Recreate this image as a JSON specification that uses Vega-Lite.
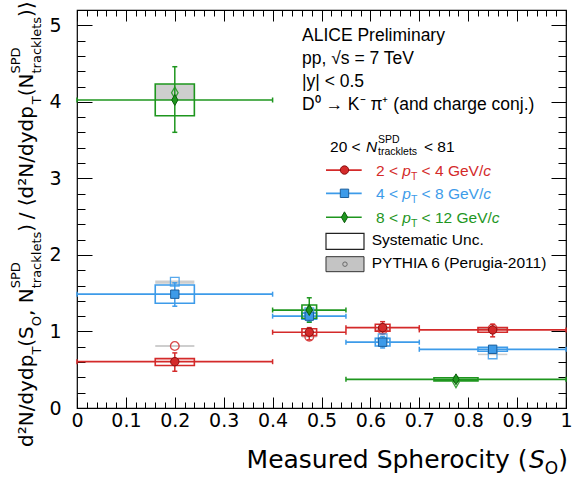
{
  "$schema": "https://vega.github.io/schema/vega-lite/v6.json",
  "width": 489,
  "height": 398,
  "autosize": "none",
  "padding": {"left": 77, "top": 10, "right": 6, "bottom": 70},
  "background": "white",
  "config": {
    "view": {"stroke": "#000", "strokeWidth": 1.2},
    "axis": {"domain": false, "grid": false, "tickColor": "#000", "tickWidth": 1, "labelColor": "#000", "labelFont": "DejaVu Sans", "labelFontSize": 19, "title": null},
    "text": {"font": "Liberation Sans"}
  },
  "datasets": {
    "d": [
      {"s": "2<pT<4", "xc": 0.2, "xlo": 0, "xhi": 0.4, "y": 0.605, "slo": 0.48, "shi": 0.72, "bxlo": 0.16, "bxhi": 0.24, "sylo": 0.555, "syhi": 0.645, "py": 0.81, "pylo": 0.797, "pyhi": 0.823},
      {"s": "2<pT<4", "xc": 0.475, "xlo": 0.4, "xhi": 0.55, "y": 0.99, "slo": 0.89, "shi": 1.05, "bxlo": 0.46, "bxhi": 0.49, "sylo": 0.945, "syhi": 1.035, "py": 0.93, "pylo": 0.92, "pyhi": 0.94},
      {"s": "2<pT<4", "xc": 0.625, "xlo": 0.55, "xhi": 0.7, "y": 1.05, "slo": 0.976, "shi": 1.128, "bxlo": 0.61, "bxhi": 0.64, "sylo": 1.005, "syhi": 1.095, "py": 1.02, "pylo": 1.01, "pyhi": 1.03},
      {"s": "2<pT<4", "xc": 0.85, "xlo": 0.7, "xhi": 1.0, "y": 1.02, "slo": 0.93, "shi": 1.094, "bxlo": 0.82, "bxhi": 0.88, "sylo": 0.99, "syhi": 1.05, "py": 1.04, "pylo": 1.03, "pyhi": 1.05},
      {"s": "4<pT<8", "xc": 0.2, "xlo": 0, "xhi": 0.4, "y": 1.487, "slo": 1.33, "shi": 1.635, "bxlo": 0.16, "bxhi": 0.24, "sylo": 1.368, "syhi": 1.607, "py": 1.65, "pylo": 1.625, "pyhi": 1.665},
      {"s": "4<pT<8", "xc": 0.475, "xlo": 0.4, "xhi": 0.55, "y": 1.2, "slo": 1.13, "shi": 1.28, "bxlo": 0.46, "bxhi": 0.49, "sylo": 1.16, "syhi": 1.24, "py": 1.25, "pylo": 1.24, "pyhi": 1.26},
      {"s": "4<pT<8", "xc": 0.625, "xlo": 0.55, "xhi": 0.7, "y": 0.86, "slo": 0.785, "shi": 0.935, "bxlo": 0.61, "bxhi": 0.64, "sylo": 0.81, "syhi": 0.91, "py": 0.91, "pylo": 0.9, "pyhi": 0.92},
      {"s": "4<pT<8", "xc": 0.85, "xlo": 0.7, "xhi": 1.0, "y": 0.767, "slo": 0.72, "shi": 0.81, "bxlo": 0.82, "bxhi": 0.88, "sylo": 0.742, "syhi": 0.792, "py": 0.7, "pylo": 0.69, "pyhi": 0.71},
      {"s": "8<pT<12", "xc": 0.2, "xlo": 0, "xhi": 0.4, "y": 4.024, "slo": 3.602, "shi": 4.459, "bxlo": 0.16, "bxhi": 0.24, "sylo": 3.819, "syhi": 4.233, "py": 4.119, "pylo": 4.024, "pyhi": 4.233},
      {"s": "8<pT<12", "xc": 0.475, "xlo": 0.4, "xhi": 0.55, "y": 1.28, "slo": 1.12, "shi": 1.44, "bxlo": 0.46, "bxhi": 0.49, "sylo": 1.172, "syhi": 1.346, "py": 1.28, "pylo": 1.27, "pyhi": 1.3},
      {"s": "8<pT<12", "xc": 0.775, "xlo": 0.55, "xhi": 1.0, "y": 0.375, "slo": 0.345, "shi": 0.405, "bxlo": 0.73, "bxhi": 0.82, "sylo": 0.355, "syhi": 0.395, "py": 0.34, "pylo": 0.355, "pyhi": 0.37}
    ],
    "leg": [
      {"s": "2<pT<4", "x1": 0.5092, "x2": 0.5822, "xm": 0.5470, "y": 3.109},
      {"s": "4<pT<8", "x1": 0.5092, "x2": 0.5822, "xm": 0.5470, "y": 2.805},
      {"s": "8<pT<12", "x1": 0.5092, "x2": 0.5822, "xm": 0.5470, "y": 2.492}
    ]
  },
  "resolve": {"axis": {"x": "independent", "y": "independent"}},
  "layer": [
    {
      "data": {"name": "d"},
      "mark": {"type": "rect", "fill": "#bdbdbd", "opacity": 0.75},
      "encoding": {
        "x": {"field": "bxlo", "type": "quantitative", "scale": {"domain": [0, 1], "nice": false, "zero": false}, "axis": null},
        "x2": {"field": "bxhi"},
        "y": {"field": "pylo", "type": "quantitative", "scale": {"domain": [0, 5.2], "nice": false, "zero": false}, "axis": null},
        "y2": {"field": "pyhi"}
      }
    },
    {
      "data": {"name": "d"},
      "mark": {"type": "rule", "strokeWidth": 1.7},
      "encoding": {
        "x": {"field": "xlo", "type": "quantitative", "scale": {"domain": [0, 1], "nice": false, "zero": false},
              "axis": {"orient": "bottom", "values": [0, 0.1, 0.2, 0.3, 0.4, 0.5, 0.6, 0.7, 0.8, 0.9, 1], "tickSize": -11, "labelPadding": 14, "labelFlush": false, "format": "~g", "title": null}},
        "x2": {"field": "xhi"},
        "y": {"field": "y", "type": "quantitative", "scale": {"domain": [0, 5.2], "nice": false, "zero": false},
              "axis": {"orient": "left", "values": [0, 1, 2, 3, 4, 5], "tickSize": -15, "labelPadding": 31, "format": "~g", "title": null}},
        "color": {"field": "s", "type": "nominal", "scale": {"domain": ["2<pT<4", "4<pT<8", "8<pT<12"], "range": ["#d42a2a", "#3d9be9", "#1e961e"]}, "legend": null}
      }
    },
    {
      "data": {"name": "d"},
      "mark": {"type": "rule", "strokeWidth": 1.5, "yOffset": -2.5, "y2Offset": 2.5},
      "encoding": {
        "x": {"field": "xlo", "type": "quantitative", "scale": {"domain": [0, 1], "nice": false, "zero": false},
              "axis": {"orient": "bottom", "values": [0.02, 0.04, 0.06, 0.08, 0.12, 0.14, 0.16, 0.18, 0.22, 0.24, 0.26, 0.28, 0.32, 0.34, 0.36, 0.38, 0.42, 0.44, 0.46, 0.48, 0.52, 0.54, 0.56, 0.58, 0.62, 0.64, 0.66, 0.68, 0.72, 0.74, 0.76, 0.78, 0.82, 0.84, 0.86, 0.88, 0.92, 0.94, 0.96, 0.98], "tickSize": -6, "labels": false, "title": null}},
        "y": {"field": "y", "type": "quantitative", "scale": {"domain": [0, 5.2], "nice": false, "zero": false},
              "axis": {"orient": "left", "values": [0.2, 0.4, 0.6, 0.8, 1.2, 1.4, 1.6, 1.8, 2.2, 2.4, 2.6, 2.8, 3.2, 3.4, 3.6, 3.8, 4.2, 4.4, 4.6, 4.8, 5.0], "tickSize": -8, "labels": false, "title": null}},
        "y2": {"field": "y"},
        "color": {"field": "s", "type": "nominal", "scale": {"domain": ["2<pT<4", "4<pT<8", "8<pT<12"], "range": ["#d42a2a", "#3d9be9", "#1e961e"]}, "legend": null}
      }
    },
    {
      "data": {"name": "d"},
      "mark": {"type": "rule", "strokeWidth": 1.5, "yOffset": -2.5, "y2Offset": 2.5},
      "encoding": {
        "x": {"field": "xhi", "type": "quantitative", "scale": {"domain": [0, 1], "nice": false, "zero": false},
              "axis": {"orient": "top", "values": [0, 0.1, 0.2, 0.3, 0.4, 0.5, 0.6, 0.7, 0.8, 0.9, 1], "tickSize": -11, "labels": false, "title": null}},
        "y": {"field": "y", "type": "quantitative", "scale": {"domain": [0, 5.2], "nice": false, "zero": false},
              "axis": {"orient": "right", "values": [0, 1, 2, 3, 4, 5], "tickSize": -15, "labels": false, "title": null}},
        "y2": {"field": "y"},
        "color": {"field": "s", "type": "nominal", "scale": {"domain": ["2<pT<4", "4<pT<8", "8<pT<12"], "range": ["#d42a2a", "#3d9be9", "#1e961e"]}, "legend": null}
      }
    },
    {
      "data": {"name": "d"},
      "mark": {"type": "rule", "strokeWidth": 1.5},
      "encoding": {
        "x": {"field": "xc", "type": "quantitative", "scale": {"domain": [0, 1], "nice": false, "zero": false},
              "axis": {"orient": "top", "values": [0.02, 0.04, 0.06, 0.08, 0.12, 0.14, 0.16, 0.18, 0.22, 0.24, 0.26, 0.28, 0.32, 0.34, 0.36, 0.38, 0.42, 0.44, 0.46, 0.48, 0.52, 0.54, 0.56, 0.58, 0.62, 0.64, 0.66, 0.68, 0.72, 0.74, 0.76, 0.78, 0.82, 0.84, 0.86, 0.88, 0.92, 0.94, 0.96, 0.98], "tickSize": -6, "labels": false, "title": null}},
        "y": {"field": "slo", "type": "quantitative", "scale": {"domain": [0, 5.2], "nice": false, "zero": false},
              "axis": {"orient": "right", "values": [0.2, 0.4, 0.6, 0.8, 1.2, 1.4, 1.6, 1.8, 2.2, 2.4, 2.6, 2.8, 3.2, 3.4, 3.6, 3.8, 4.2, 4.4, 4.6, 4.8, 5.0], "tickSize": -8, "labels": false, "title": null}},
        "y2": {"field": "shi"},
        "color": {"field": "s", "type": "nominal", "scale": {"domain": ["2<pT<4", "4<pT<8", "8<pT<12"], "range": ["#d42a2a", "#3d9be9", "#1e961e"]}, "legend": null}
      }
    },
    {
      "data": {"name": "d"},
      "mark": {"type": "rule", "strokeWidth": 1.5, "xOffset": -2.5, "x2Offset": 2.5},
      "encoding": {
        "x": {"field": "xc", "type": "quantitative", "scale": {"domain": [0, 1], "nice": false, "zero": false}, "axis": null},
        "x2": {"field": "xc"},
        "y": {"field": "shi", "type": "quantitative", "scale": {"domain": [0, 5.2], "nice": false, "zero": false}, "axis": null},
        "color": {"field": "s", "type": "nominal", "scale": {"domain": ["2<pT<4", "4<pT<8", "8<pT<12"], "range": ["#d42a2a", "#3d9be9", "#1e961e"]}, "legend": null}
      }
    },
    {
      "data": {"name": "d"},
      "mark": {"type": "rule", "strokeWidth": 1.5, "xOffset": -2.5, "x2Offset": 2.5},
      "encoding": {
        "x": {"field": "xc", "type": "quantitative", "scale": {"domain": [0, 1], "nice": false, "zero": false}, "axis": null},
        "x2": {"field": "xc"},
        "y": {"field": "slo", "type": "quantitative", "scale": {"domain": [0, 5.2], "nice": false, "zero": false}, "axis": null},
        "color": {"field": "s", "type": "nominal", "scale": {"domain": ["2<pT<4", "4<pT<8", "8<pT<12"], "range": ["#d42a2a", "#3d9be9", "#1e961e"]}, "legend": null}
      }
    },
    {
      "data": {"name": "d"},
      "mark": {"type": "rect", "filled": false, "strokeWidth": 1.6},
      "encoding": {
        "x": {"field": "bxlo", "type": "quantitative", "scale": {"domain": [0, 1], "nice": false, "zero": false}, "axis": null},
        "x2": {"field": "bxhi"},
        "y": {"field": "sylo", "type": "quantitative", "scale": {"domain": [0, 5.2], "nice": false, "zero": false}, "axis": null},
        "y2": {"field": "syhi"},
        "color": {"field": "s", "type": "nominal", "scale": {"domain": ["2<pT<4", "4<pT<8", "8<pT<12"], "range": ["#d42a2a", "#3d9be9", "#1e961e"]}, "legend": null}
      }
    },
    {
      "data": {"name": "d"},
      "mark": {"type": "point", "filled": false, "size": 75, "strokeWidth": 1.3, "opacity": 0.85},
      "encoding": {
        "x": {"field": "xc", "type": "quantitative", "scale": {"domain": [0, 1], "nice": false, "zero": false}, "axis": null},
        "y": {"field": "py", "type": "quantitative", "scale": {"domain": [0, 5.2], "nice": false, "zero": false}, "axis": null},
        "shape": {"field": "s", "type": "nominal", "scale": {"domain": ["2<pT<4", "4<pT<8", "8<pT<12"], "range": ["circle", "square", "M0,-1.3L0.75,0L0,1.3L-0.75,0Z"]}, "legend": null},
        "color": {"field": "s", "type": "nominal", "scale": {"domain": ["2<pT<4", "4<pT<8", "8<pT<12"], "range": ["#d42a2a", "#3d9be9", "#1e961e"]}, "legend": null}
      }
    },
    {
      "data": {"name": "d"},
      "mark": {"type": "point", "filled": true, "size": 70, "opacity": 1, "strokeWidth": 1},
      "encoding": {
        "x": {"field": "xc", "type": "quantitative", "scale": {"domain": [0, 1], "nice": false, "zero": false}, "axis": null},
        "y": {"field": "y", "type": "quantitative", "scale": {"domain": [0, 5.2], "nice": false, "zero": false}, "axis": null},
        "shape": {"field": "s", "type": "nominal", "scale": {"domain": ["2<pT<4", "4<pT<8", "8<pT<12"], "range": ["circle", "square", "M0,-1.3L0.75,0L0,1.3L-0.75,0Z"]}, "legend": null},
        "fill": {"field": "s", "type": "nominal", "scale": {"domain": ["2<pT<4", "4<pT<8", "8<pT<12"], "range": ["#d42a2a", "#3d9be9", "#1e961e"]}, "legend": null},
        "stroke": {"field": "s", "type": "nominal", "scale": {"domain": ["2<pT<4", "4<pT<8", "8<pT<12"], "range": ["#8b0f0f", "#1d5f9c", "#0c5e0c"]}, "legend": null}
      }
    },
    {
      "data": {"name": "leg"},
      "mark": {"type": "rule", "strokeWidth": 1.7},
      "encoding": {
        "x": {"field": "x1", "type": "quantitative", "scale": {"domain": [0, 1], "nice": false, "zero": false}, "axis": null},
        "x2": {"field": "x2"},
        "y": {"field": "y", "type": "quantitative", "scale": {"domain": [0, 5.2], "nice": false, "zero": false}, "axis": null},
        "color": {"field": "s", "type": "nominal", "scale": {"domain": ["2<pT<4", "4<pT<8", "8<pT<12"], "range": ["#d42a2a", "#3d9be9", "#1e961e"]}, "legend": null}
      }
    },
    {
      "data": {"name": "leg"},
      "mark": {"type": "point", "filled": true, "size": 70, "opacity": 1, "strokeWidth": 1},
      "encoding": {
        "x": {"field": "xm", "type": "quantitative", "scale": {"domain": [0, 1], "nice": false, "zero": false}, "axis": null},
        "y": {"field": "y", "type": "quantitative", "scale": {"domain": [0, 5.2], "nice": false, "zero": false}, "axis": null},
        "shape": {"field": "s", "type": "nominal", "scale": {"domain": ["2<pT<4", "4<pT<8", "8<pT<12"], "range": ["circle", "square", "M0,-1.3L0.75,0L0,1.3L-0.75,0Z"]}, "legend": null},
        "fill": {"field": "s", "type": "nominal", "scale": {"domain": ["2<pT<4", "4<pT<8", "8<pT<12"], "range": ["#d42a2a", "#3d9be9", "#1e961e"]}, "legend": null},
        "stroke": {"field": "s", "type": "nominal", "scale": {"domain": ["2<pT<4", "4<pT<8", "8<pT<12"], "range": ["#8b0f0f", "#1d5f9c", "#0c5e0c"]}, "legend": null}
      }
    },
    {
      "data": {"values": [{"x1": 0.5092, "x2": 0.5869, "y1": 2.073, "y2": 2.282}]},
      "mark": {"type": "rect", "fill": "white", "stroke": "#222", "strokeWidth": 1.2},
      "encoding": {
        "x": {"field": "x1", "type": "quantitative", "scale": {"domain": [0, 1], "nice": false, "zero": false}, "axis": null},
        "x2": {"field": "x2"},
        "y": {"field": "y1", "type": "quantitative", "scale": {"domain": [0, 5.2], "nice": false, "zero": false}, "axis": null},
        "y2": {"field": "y2"}
      }
    },
    {
      "data": {"values": [{"x1": 0.5092, "x2": 0.5869, "y1": 1.781, "y2": 1.977}]},
      "mark": {"type": "rect", "fill": "#c4c4c4", "stroke": "#333", "strokeWidth": 1},
      "encoding": {
        "x": {"field": "x1", "type": "quantitative", "scale": {"domain": [0, 1], "nice": false, "zero": false}, "axis": null},
        "x2": {"field": "x2"},
        "y": {"field": "y1", "type": "quantitative", "scale": {"domain": [0, 5.2], "nice": false, "zero": false}, "axis": null},
        "y2": {"field": "y2"}
      }
    },
    {
      "data": {"values": [{"x": 0.548, "y": 1.879}]},
      "mark": {"type": "point", "shape": "circle", "filled": false, "stroke": "#444", "strokeWidth": 1, "size": 20},
      "encoding": {
        "x": {"field": "x", "type": "quantitative", "scale": {"domain": [0, 1], "nice": false, "zero": false}, "axis": null},
        "y": {"field": "y", "type": "quantitative", "scale": {"domain": [0, 5.2], "nice": false, "zero": false}, "axis": null}
      }
    },
    {
      "data": {"values": [
        {"t": "ALICE Preliminary", "x": 0.4601, "y": 4.795},
        {"t": "pp, √s = 7 TeV", "x": 0.4601, "y": 4.494},
        {"t": "|y| < 0.5", "x": 0.4601, "y": 4.194},
        {"t": "D⁰ → K⁻ π⁺ (and charge conj.)", "x": 0.4601, "y": 3.893}
      ]},
      "mark": {"type": "text", "font": "Liberation Sans", "fontSize": 17.5, "align": "left", "baseline": "alphabetic", "color": "#000"},
      "encoding": {
        "x": {"field": "x", "type": "quantitative", "scale": {"domain": [0, 1], "nice": false, "zero": false}, "axis": null},
        "y": {"field": "y", "type": "quantitative", "scale": {"domain": [0, 5.2], "nice": false, "zero": false}, "axis": null},
        "text": {"field": "t"}
      }
    },
    {
      "data": {"values": [
        {"t": "20 <", "x": 0.5174, "y": 3.345},
        {"t": "< 81", "x": 0.7096, "y": 3.345},
        {"t": "Systematic Unc.", "x": 0.6027, "y": 2.130},
        {"t": "PYTHIA 6 (Perugia-2011)", "x": 0.6027, "y": 1.825}
      ]},
      "mark": {"type": "text", "font": "Liberation Sans", "fontSize": 15.5, "align": "left", "baseline": "alphabetic", "color": "#000"},
      "encoding": {
        "x": {"field": "x", "type": "quantitative", "scale": {"domain": [0, 1], "nice": false, "zero": false}, "axis": null},
        "y": {"field": "y", "type": "quantitative", "scale": {"domain": [0, 5.2], "nice": false, "zero": false}, "axis": null},
        "text": {"field": "t"}
      }
    },
    {
      "data": {"values": [{"t": "N", "x": 0.5910, "y": 3.345}]},
      "mark": {"type": "text", "font": "Liberation Sans", "fontSize": 15.5, "fontStyle": "italic", "align": "left", "baseline": "alphabetic", "color": "#000"},
      "encoding": {
        "x": {"field": "x", "type": "quantitative", "scale": {"domain": [0, 1], "nice": false, "zero": false}, "axis": null},
        "y": {"field": "y", "type": "quantitative", "scale": {"domain": [0, 5.2], "nice": false, "zero": false}, "axis": null},
        "text": {"field": "t"}
      }
    },
    {
      "data": {"values": [{"t": "SPD", "x": 0.6155, "y": 3.462}, {"t": "tracklets", "x": 0.6155, "y": 3.305}]},
      "mark": {"type": "text", "font": "Liberation Sans", "fontSize": 10.5, "align": "left", "baseline": "alphabetic", "color": "#000"},
      "encoding": {
        "x": {"field": "x", "type": "quantitative", "scale": {"domain": [0, 1], "nice": false, "zero": false}, "axis": null},
        "y": {"field": "y", "type": "quantitative", "scale": {"domain": [0, 5.2], "nice": false, "zero": false}, "axis": null},
        "text": {"field": "t"}
      }
    },
    {
      "data": {"values": [
        {"s": "2<pT<4", "t": "2 <", "x": 0.6115, "y": 3.037},
        {"s": "2<pT<4", "t": "< 4 GeV/", "x": 0.7047, "y": 3.037},
        {"s": "4<pT<8", "t": "4 <", "x": 0.6115, "y": 2.733},
        {"s": "4<pT<8", "t": "< 8 GeV/", "x": 0.7047, "y": 2.733},
        {"s": "8<pT<12", "t": "8 <", "x": 0.6115, "y": 2.420},
        {"s": "8<pT<12", "t": "< 12 GeV/", "x": 0.7047, "y": 2.420}
      ]},
      "mark": {"type": "text", "font": "Liberation Sans", "fontSize": 15.5, "align": "left", "baseline": "alphabetic"},
      "encoding": {
        "x": {"field": "x", "type": "quantitative", "scale": {"domain": [0, 1], "nice": false, "zero": false}, "axis": null},
        "y": {"field": "y", "type": "quantitative", "scale": {"domain": [0, 5.2], "nice": false, "zero": false}, "axis": null},
        "text": {"field": "t"},
        "color": {"field": "s", "type": "nominal", "scale": {"domain": ["2<pT<4", "4<pT<8", "8<pT<12"], "range": ["#d42a2a", "#3d9be9", "#1e961e"]}, "legend": null}
      }
    },
    {
      "data": {"values": [
        {"s": "2<pT<4", "t": "p", "x": 0.6652, "y": 3.037},
        {"s": "2<pT<4", "t": "c", "x": 0.8307, "y": 3.037},
        {"s": "4<pT<8", "t": "p", "x": 0.6652, "y": 2.733},
        {"s": "4<pT<8", "t": "c", "x": 0.8307, "y": 2.733},
        {"s": "8<pT<12", "t": "p", "x": 0.6652, "y": 2.420},
        {"s": "8<pT<12", "t": "c", "x": 0.8483, "y": 2.420}
      ]},
      "mark": {"type": "text", "font": "Liberation Sans", "fontSize": 15.5, "fontStyle": "italic", "align": "left", "baseline": "alphabetic"},
      "encoding": {
        "x": {"field": "x", "type": "quantitative", "scale": {"domain": [0, 1], "nice": false, "zero": false}, "axis": null},
        "y": {"field": "y", "type": "quantitative", "scale": {"domain": [0, 5.2], "nice": false, "zero": false}, "axis": null},
        "text": {"field": "t"},
        "color": {"field": "s", "type": "nominal", "scale": {"domain": ["2<pT<4", "4<pT<8", "8<pT<12"], "range": ["#d42a2a", "#3d9be9", "#1e961e"]}, "legend": null}
      }
    },
    {
      "data": {"values": [
        {"s": "2<pT<4", "t": "T", "x": 0.6828, "y": 2.985},
        {"s": "4<pT<8", "t": "T", "x": 0.6828, "y": 2.681},
        {"s": "8<pT<12", "t": "T", "x": 0.6828, "y": 2.368}
      ]},
      "mark": {"type": "text", "font": "Liberation Sans", "fontSize": 10.5, "align": "left", "baseline": "alphabetic"},
      "encoding": {
        "x": {"field": "x", "type": "quantitative", "scale": {"domain": [0, 1], "nice": false, "zero": false}, "axis": null},
        "y": {"field": "y", "type": "quantitative", "scale": {"domain": [0, 5.2], "nice": false, "zero": false}, "axis": null},
        "text": {"field": "t"},
        "color": {"field": "s", "type": "nominal", "scale": {"domain": ["2<pT<4", "4<pT<8", "8<pT<12"], "range": ["#d42a2a", "#3d9be9", "#1e961e"]}, "legend": null}
      }
    },
    {
      "data": {"values": [
        {"t": "d²N/dydp", "x": -0.09, "y": -0.5095},
        {"t": "(S", "x": -0.09, "y": 0.8009},
        {"t": ", N", "x": -0.09, "y": 1.2020},
        {"t": ")", "x": -0.09, "y": 2.3034},
        {"t": "/ ⟨d²N/dydp", "x": -0.09, "y": 2.4653},
        {"t": "(N", "x": -0.09, "y": 4.0724},
        {"t": ")⟩", "x": -0.09, "y": 5.1098}
      ]},
      "mark": {"type": "text", "font": "DejaVu Sans", "fontSize": 20, "angle": 270, "align": "left", "baseline": "alphabetic", "color": "#000"},
      "encoding": {
        "x": {"field": "x", "type": "quantitative", "scale": {"domain": [0, 1], "nice": false, "zero": false}, "axis": null},
        "y": {"field": "y", "type": "quantitative", "scale": {"domain": [0, 5.2], "nice": false, "zero": false}, "axis": null},
        "text": {"field": "t"}
      }
    },
    {
      "data": {"values": [
        {"t": "T", "x": -0.0736, "y": 0.6977},
        {"t": "O", "x": -0.0736, "y": 1.0687},
        {"t": "tracklets", "x": -0.0736, "y": 1.5639},
        {"t": "T", "x": -0.0736, "y": 3.9692},
        {"t": "tracklets", "x": -0.0736, "y": 4.3703},
        {"t": "SPD", "x": -0.1166, "y": 1.5639},
        {"t": "SPD", "x": -0.1166, "y": 4.3703}
      ]},
      "mark": {"type": "text", "font": "DejaVu Sans", "fontSize": 13, "angle": 270, "align": "left", "baseline": "alphabetic", "color": "#000"},
      "encoding": {
        "x": {"field": "x", "type": "quantitative", "scale": {"domain": [0, 1], "nice": false, "zero": false}, "axis": null},
        "y": {"field": "y", "type": "quantitative", "scale": {"domain": [0, 5.2], "nice": false, "zero": false}, "axis": null},
        "text": {"field": "t"}
      }
    },
    {
      "data": {"values": [
        {"t": "Measured Spherocity (", "x": 0.9215, "y": -0.784},
        {"t": ")", "x": 1.004, "y": -0.784}
      ]},
      "mark": {"type": "text", "font": "DejaVu Sans", "fontSize": 25, "align": "right", "baseline": "alphabetic", "color": "#000"},
      "encoding": {
        "x": {"field": "x", "type": "quantitative", "scale": {"domain": [0, 1], "nice": false, "zero": false}, "axis": null},
        "y": {"field": "y", "type": "quantitative", "scale": {"domain": [0, 5.2], "nice": false, "zero": false}, "axis": null},
        "text": {"field": "t"}
      }
    },
    {
      "data": {"values": [{"t": "S", "x": 0.9566, "y": -0.784}]},
      "mark": {"type": "text", "font": "DejaVu Sans", "fontSize": 25, "fontStyle": "italic", "align": "right", "baseline": "alphabetic", "color": "#000"},
      "encoding": {
        "x": {"field": "x", "type": "quantitative", "scale": {"domain": [0, 1], "nice": false, "zero": false}, "axis": null},
        "y": {"field": "y", "type": "quantitative", "scale": {"domain": [0, 5.2], "nice": false, "zero": false}, "axis": null},
        "text": {"field": "t"}
      }
    },
    {
      "data": {"values": [{"t": "O", "x": 0.984, "y": -0.862}]},
      "mark": {"type": "text", "font": "DejaVu Sans", "fontSize": 17, "align": "right", "baseline": "alphabetic", "color": "#000"},
      "encoding": {
        "x": {"field": "x", "type": "quantitative", "scale": {"domain": [0, 1], "nice": false, "zero": false}, "axis": null},
        "y": {"field": "y", "type": "quantitative", "scale": {"domain": [0, 5.2], "nice": false, "zero": false}, "axis": null},
        "text": {"field": "t"}
      }
    }
  ]
}
